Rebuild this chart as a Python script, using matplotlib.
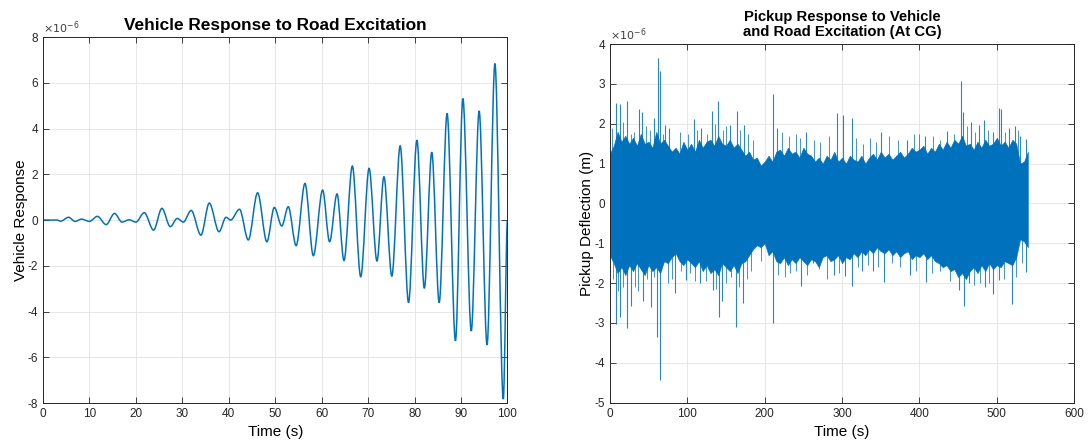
import numpy as np
import matplotlib
matplotlib.use("Agg")
import matplotlib.pyplot as plt
from matplotlib.path import Path
from matplotlib.patches import PathPatch
from matplotlib.ticker import FuncFormatter

plt.rcParams['font.family'] = ['Liberation Sans', 'DejaVu Sans']
plt.rcParams['axes.unicode_minus'] = False

# left panel: turning points of the response curve (x1e-6)
veh_t = [0, 3.0, 3.8, 5.5, 6.9, 8.3, 10.0, 11.7, 13.6, 15.4, 17.0, 18.5, 20.0, 21.8, 23.8,
         25.6, 27.4, 28.9, 30.2, 31.9, 34.0, 35.8, 37.9, 39.4, 40.4, 42.3, 44.2, 46.2, 48.2,
         49.8, 51.4, 52.8, 54.5, 56.4, 58.2, 60.2, 61.7, 63.3, 64.8, 66.6, 68.4, 70.2, 71.9,
         73.4, 75.1, 76.9, 78.7, 80.5, 82.1, 83.7, 85.3, 87.0, 88.8, 90.4, 92.2, 93.9, 95.6,
         97.3, 99.1, 100]
veh_resp = [0, 0, -0.05, 0.12, -0.06, 0.04, -0.06, 0.16, -0.2, 0.29, -0.09, 0.01, -0.09, 0.32,
            -0.44, 0.51, -0.29, 0.07, -0.09, 0.42, -0.66, 0.74, -0.51, 0.12, 0.0, 0.47, -0.87,
            1.19, -0.95, 0.55, -0.26, 0.58, -1.12, 1.60, -1.56, 1.31, -0.95, 1.14, -1.77, 2.36,
            -2.48, 2.26, -1.79, 1.89, -2.45, 3.24, -3.61, 3.49, -2.98, 2.96, -3.61, 4.66, -5.28,
            5.31, -4.85, 4.77, -5.46, 6.84, -7.83, 0.0]

# right panel: edge of the dense band every 5 s (x1e-6)
env_t = list(range(0, 545, 5))
env_top = [1.25, 1.45, 1.8, 1.55, 1.7, 1.5, 1.65, 1.45, 1.75, 1.5, 1.55,
           1.4, 1.8, 1.5, 1.6, 1.45, 1.3, 1.4, 1.25, 1.55, 1.35,
           1.5, 1.3, 1.6, 1.4, 1.55, 1.6, 1.45, 1.7, 1.5, 1.45,
           1.6, 1.4, 1.5, 1.35, 1.2, 1.3, 1.1, 1.15, 0.95, 1.05,
           1.2, 1.05, 1.3, 1.35, 1.2, 1.4, 1.25, 1.3, 1.15, 1.4,
           1.25, 1.2, 1.05, 1.15, 1.0, 1.2, 1.1, 1.3, 1.05, 1.15,
           1.0, 1.2, 1.1, 1.05, 1.2, 1.0, 1.15, 1.25, 1.1, 1.3,
           1.15, 1.25, 1.1, 1.2, 1.3, 1.15, 1.25, 1.4, 1.3, 1.35,
           1.45, 1.25, 1.4, 1.3, 1.5, 1.35, 1.55, 1.4, 1.6, 1.5,
           1.7, 1.45, 1.5, 1.35, 1.55, 1.4, 1.6, 1.45, 1.5, 1.65,
           1.45, 1.55, 1.4, 1.6, 1.5, 1.0, 1.05, 1.3]
env_bot = [-1.3, -1.5, -1.75, -1.6, -1.8, -1.55, -1.7, -1.5, -1.65, -1.8, -1.55,
           -1.7, -1.6, -1.75, -1.45, -1.5, -1.35, -1.25, -1.45, -1.55, -1.4,
           -1.5, -1.6, -1.45, -1.7, -1.55, -1.75, -1.65, -1.8, -1.5, -1.6,
           -1.7, -1.55, -1.75, -1.5, -1.45, -1.3, -1.15, -1.05, -1.1, -1.0,
           -1.3, -1.2, -1.45, -1.5, -1.35, -1.55, -1.4, -1.5, -1.35, -1.45,
           -1.55, -1.4, -1.45, -1.6, -1.35, -1.3, -1.45, -1.4, -1.3, -1.5,
           -1.35, -1.4, -1.25, -1.35, -1.2, -1.3, -1.15, -1.25, -1.1, -1.2,
           -1.25, -1.15, -1.3, -1.2, -1.35, -1.25, -1.2, -1.4, -1.3, -1.35,
           -1.25, -1.4, -1.3, -1.45, -1.5, -1.6, -1.55, -1.7, -1.65, -1.85,
           -1.75, -1.9, -1.7, -1.6, -1.75, -1.55, -1.7, -1.5, -1.65, -1.55,
           -1.6, -1.45, -1.5, -1.55, -1.35, -0.9, -0.95, -1.1]

# right panel: tall isolated peaks (x1e-6)
up_t = [7.8, 12.9, 21.6, 37.5, 41, 57.3, 61.6, 64.7, 71.1, 76.3, 108.6, 118, 132.4, 140.1, 155.6,
        163.8, 173.3, 211.2, 215.5, 253, 294, 301.7, 312.5, 350, 383.7, 407.3, 435.4, 453, 456,
        466.8, 476.3, 482.8, 494.9, 502.6, 505.6, 515, 522.8, 530.2, 538]
up_v = [2.52, 2.49, 2.57, 2.37, 2.29, 2.14, 3.66, 3.33, 1.96, 1.89, 2.12, 1.9, 2.32, 2.57, 1.97,
        2.32, 1.97, 2.74, 1.89, 1.80, 2.26, 2.21, 2.14, 1.79, 1.58, 1.7, 1.83, 3.06, 2.29, 2.04,
        1.97, 2.09, 1.79, 2.4, 2.36, 1.9, 1.94, 1.7, 1.62]
dn_t = [7.8, 12.9, 21.6, 26.7, 43.1, 53, 61.2, 65.1, 84, 97.8, 116.4, 132.8, 141, 144.4, 162.5,
        172.4, 211.2, 247, 262, 289.7, 304, 312.5, 325.4, 340.5, 354.3, 388, 408.2, 451.7, 456.9,
        464.6, 484, 494.4, 502.2, 519.5, 538]
dn_v = [-3.03, -2.84, -3.13, -2.58, -2.46, -2.61, -3.34, -4.42, -2.25, -1.92, -2.0, -2.17, -2.84,
        -2.46, -3.11, -2.5, -2.99, -2.07, -1.5, -1.79, -1.83, -2.07, -1.7, -1.7, -1.96, -1.8, -1.96,
        -2.17, -2.58, -2.0, -2.1, -2.27, -1.93, -2.52, -1.72]

# right panel: smaller peaks just outside the band (x1e-6)
minor_up_t = [3, 17, 27, 31, 47, 52, 69, 90, 101, 113, 126, 136, 146, 150, 168, 178, 185, 222,
              232, 241, 246, 264, 272, 283, 318, 327, 336, 344, 361, 372, 393, 400, 417, 426,
              444, 461, 472, 488, 510, 527]
minor_up_v = [1.9, 2.05, 1.75, 1.8, 1.95, 1.85, 1.75, 1.8, 1.75, 1.85, 1.75, 2.0, 1.85, 1.95,
              1.85, 1.75, 1.6, 1.8, 1.7, 1.75, 1.65, 1.6, 1.55, 1.7, 1.65, 1.5, 1.65, 1.55, 1.7,
              1.6, 1.75, 1.75, 1.7, 1.6, 1.75, 1.95, 1.8, 1.85, 1.8, 1.85]
minor_dn_t = [4, 10, 17, 33, 36, 48, 57, 75, 80, 92, 104, 110, 124, 137, 150, 156, 167, 177, 183,
              195, 217, 226, 233, 240, 255, 270, 280, 296, 320, 333, 347, 365, 375, 396, 416,
              427, 440, 470, 478, 490, 509, 525, 533]
minor_dn_v = [-1.9, -2.2, -2.1, -2.1, -2.2, -1.9, -1.85, -2.0, -1.9, -1.7, -1.75, -1.95, -1.95,
              -2.15, -2.0, -1.85, -2.1, -1.9, -1.7, -1.45, -1.8, -1.85, -1.75, -1.7, -1.8, -1.65,
              -1.9, -1.75, -1.6, -1.55, -1.6, -1.5, -1.6, -1.7, -1.75, -1.7, -1.95, -2.05, -2.0,
              -2.0, -1.9, -1.85, -1.5]

blue = '#0072BD'
scale = 1e-6


def style_axes(ax):
    ax.grid(True, color='#e3e3e3', linewidth=0.6)
    ax.set_axisbelow(True)
    for s in ax.spines.values():
        s.set_color('#262626')
        s.set_linewidth(0.7)
    ax.tick_params(direction='in', top=True, right=True, length=4, width=0.6,
                   labelsize=8.5, colors='#262626', labelcolor='#262626')
    ax.yaxis.set_major_formatter(FuncFormatter(lambda v, p: '%g' % round(v / scale, 6)))
    ax.text(0.0, 1.004, r'$\times10^{-6}$', transform=ax.transAxes, fontsize=8,
            color='#404040', ha='left', va='bottom')


fig = plt.figure(figsize=(10.89, 4.42), dpi=100)
ax1 = fig.add_axes([0.0395, 0.0882, 0.4265, 0.828])
ax2 = fig.add_axes([0.560, 0.0889, 0.4265, 0.8115])

# smooth curve through the turning points using cubic bezier segments
verts = [(veh_t[0], veh_resp[0] * scale)]
codes = [Path.MOVETO]
for i in range(len(veh_t) - 1):
    t0, t1 = veh_t[i], veh_t[i + 1]
    v0, v1 = veh_resp[i] * scale, veh_resp[i + 1] * scale
    dt = t1 - t0
    verts += [(t0 + dt / 3, v0), (t1 - dt / 3, v1), (t1, v1)]
    codes += [Path.CURVE4] * 3
ax1.add_patch(PathPatch(Path(verts, codes), facecolor='none', edgecolor=blue, linewidth=1.1))

ax1.set_xlim(0, 100)
ax1.set_ylim(-8e-6, 8e-6)
ax1.set_xticks(np.arange(0, 101, 10))
ax1.set_yticks(np.arange(-8, 9, 2) * scale)
style_axes(ax1)
ax1.set_title('Vehicle Response to Road Excitation', fontsize=12.4, fontweight='bold', pad=5)
ax1.set_xlabel('Time (s)', fontsize=11, labelpad=4)
ax1.set_ylabel('Vehicle Response', fontsize=11, labelpad=0)

# right panel
ax2.fill_between(env_t, np.array(env_bot) * scale, np.array(env_top) * scale,
                 color=blue, linewidth=0.4)
ax2.vlines(minor_up_t, 0, np.array(minor_up_v) * scale, color=blue, linewidth=0.7, alpha=0.75)
ax2.vlines(minor_dn_t, 0, np.array(minor_dn_v) * scale, color=blue, linewidth=0.7, alpha=0.75)
ax2.vlines(up_t, 0, np.array(up_v) * scale, color=blue, linewidth=0.8, alpha=0.85)
ax2.vlines(dn_t, 0, np.array(dn_v) * scale, color=blue, linewidth=0.8, alpha=0.85)
ax2.set_xlim(0, 600)
ax2.set_ylim(-5e-6, 4e-6)
ax2.set_xticks(np.arange(0, 601, 100))
ax2.set_yticks(np.arange(-5, 5, 1) * scale)
style_axes(ax2)
ax2.set_title('Pickup Response to Vehicle\nand Road Excitation (At CG)', fontsize=10.7,
              fontweight='bold', pad=6, linespacing=1.1)
ax2.set_xlabel('Time (s)', fontsize=11, labelpad=4)
ax2.set_ylabel('Pickup Deflection (m)', fontsize=11, labelpad=0)

fig.savefig('out.png', dpi=100)
